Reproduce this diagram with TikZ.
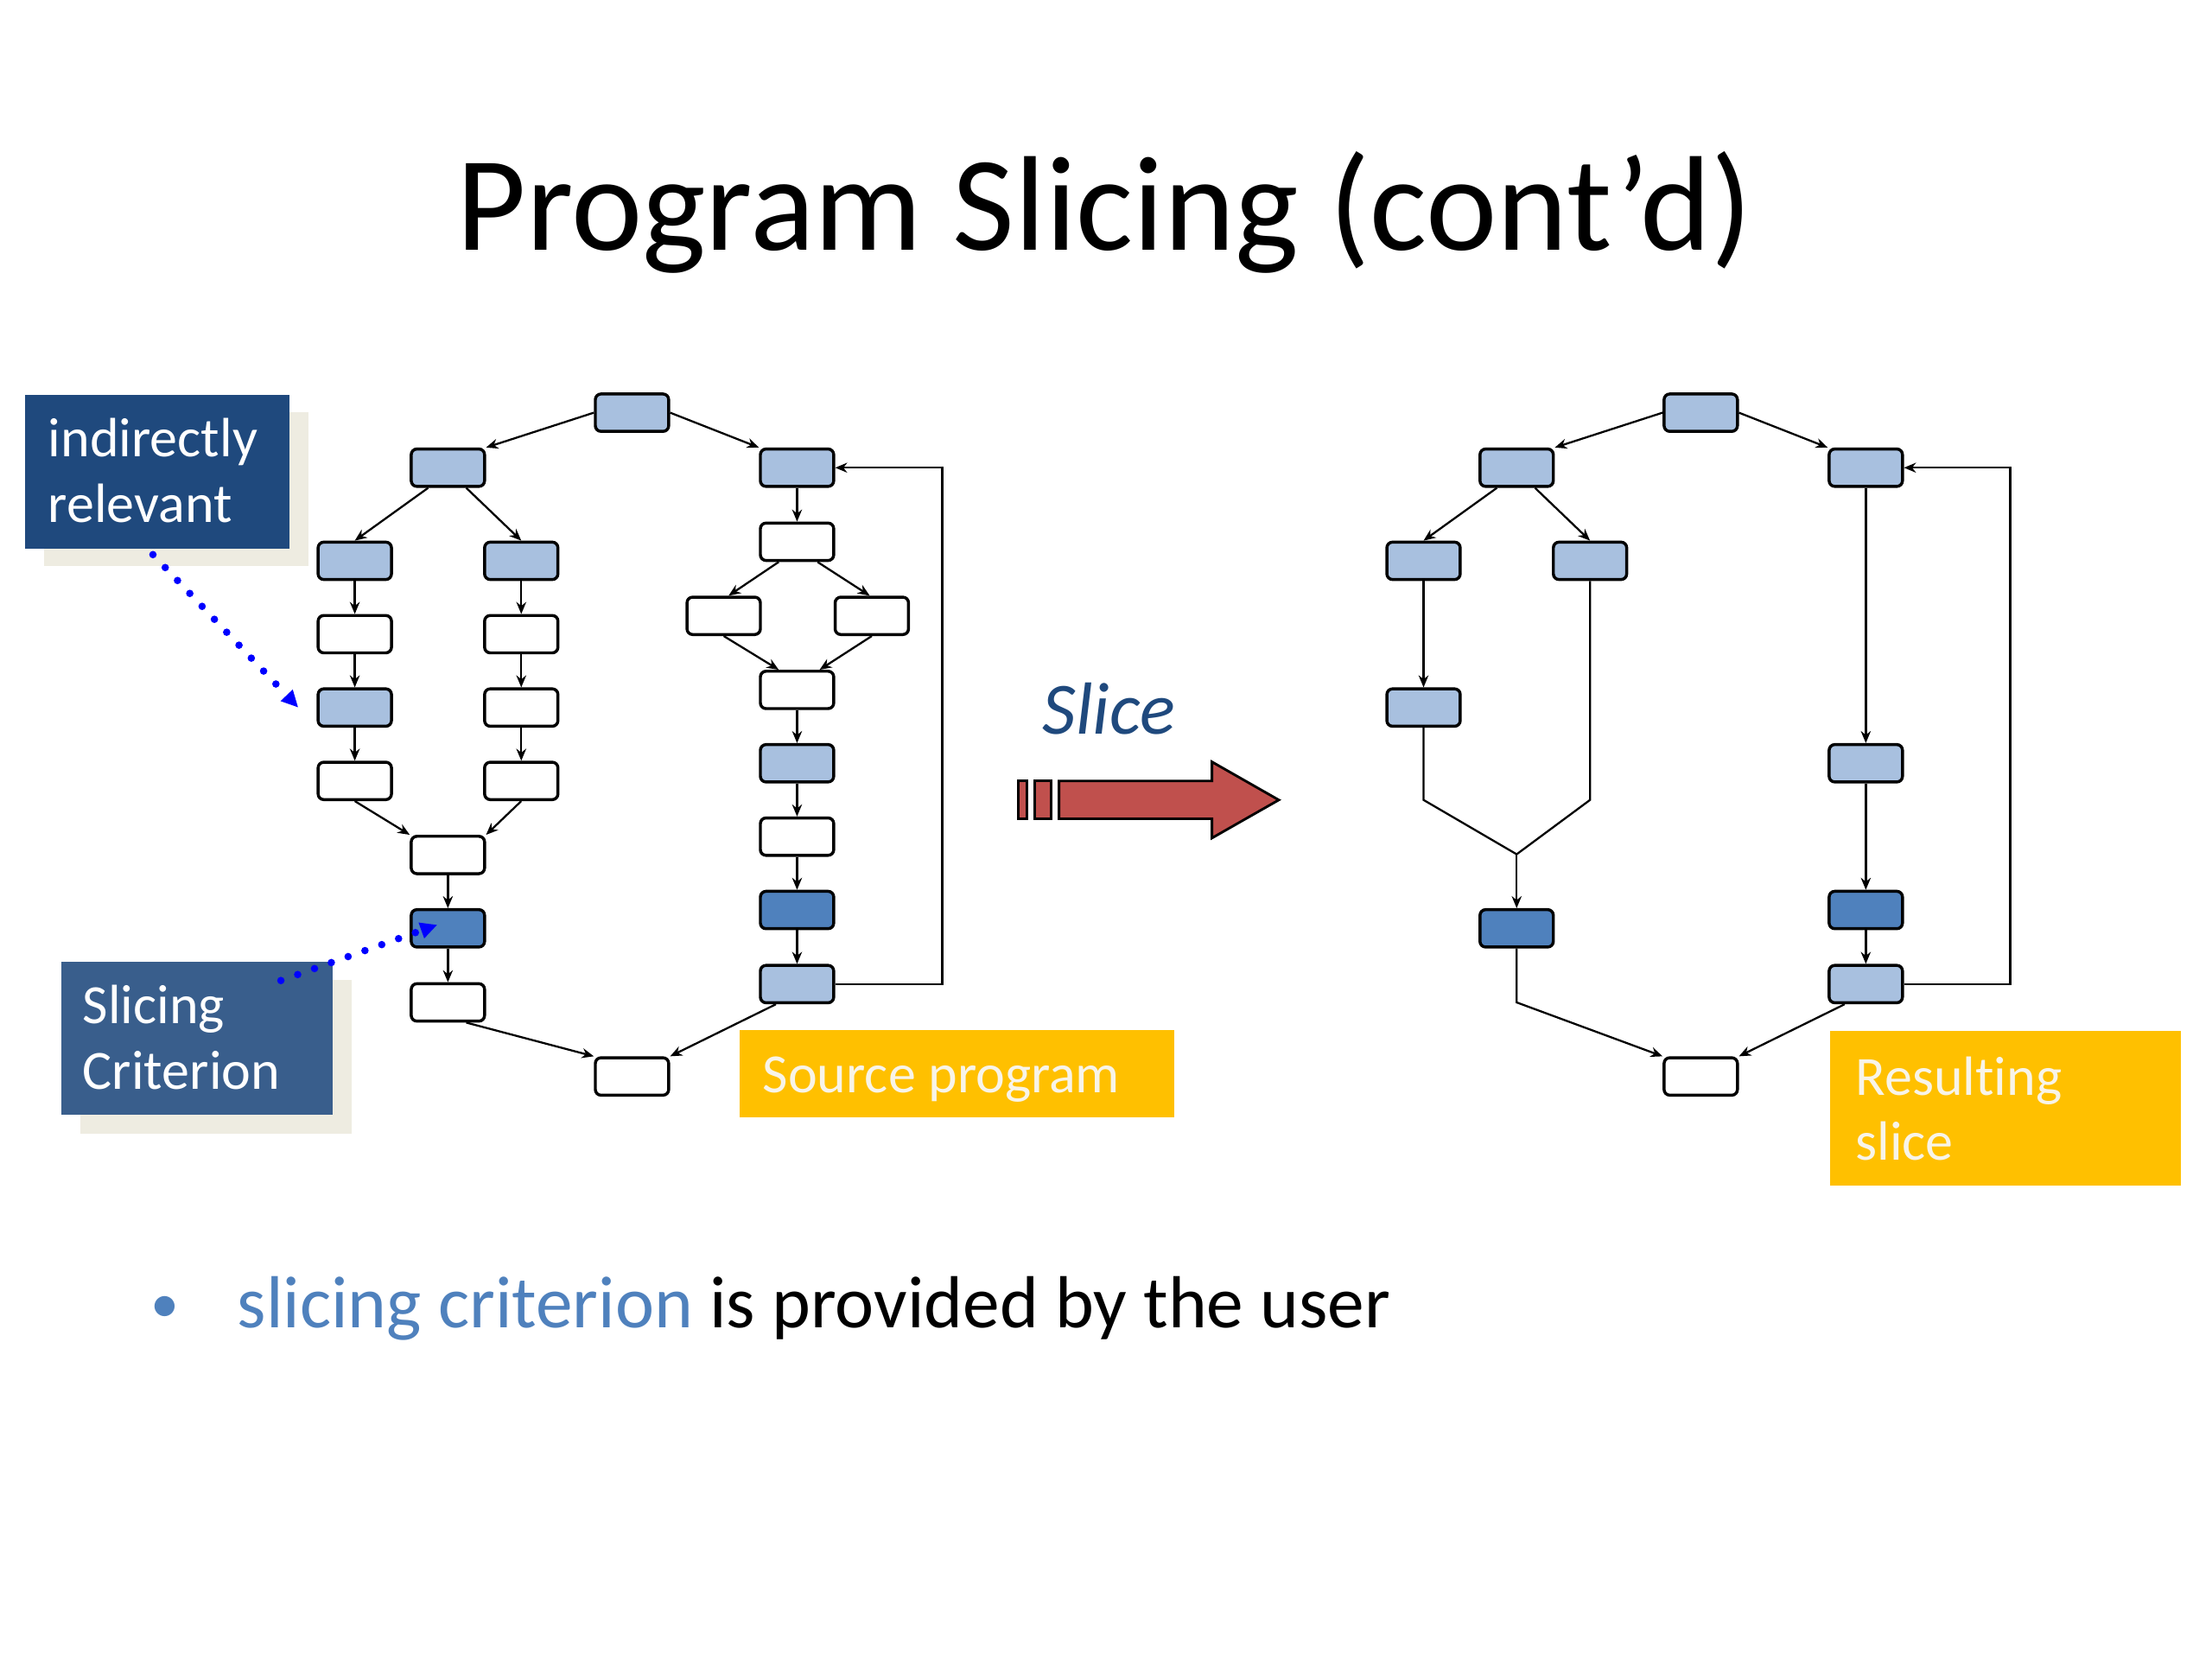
\documentclass[tikz,border=0pt]{standalone}
\usepackage{fontspec}
\setmainfont{Carlito}[Ligatures={NoCommon,NoRequired,NoContextual}]
\usetikzlibrary{arrows.meta,calc}
\definecolor{lblue}{RGB}{168,192,223}
\definecolor{dblue}{RGB}{79,129,189}
\definecolor{navy}{RGB}{31,73,125}
\definecolor{critblue}{RGB}{57,94,140}
\definecolor{shadowc}{RGB}{238,236,225}
\definecolor{gold}{RGB}{255,192,0}
\definecolor{cream}{RGB}{248,244,232}
\definecolor{slicered}{RGB}{192,80,77}
\tikzset{
  box/.style={draw=black, line width=0.6pt, rounded corners=0.4mm, minimum width=5.2mm, minimum height=2.65mm, inner sep=0pt},
  lb/.style={box, fill=lblue},
  db/.style={box, fill=dblue},
  wb/.style={box, fill=white},
  conn/.style={line width=0.4pt, -{Stealth[length=0.85mm,width=0.7mm]}},
  plainline/.style={line width=0.4pt},
  panel/.style={anchor=north west, inner sep=0pt, draw=none},
  calloutfont/.style={font=\fontsize{11.16}{13.4}\selectfont, anchor=base west, inner sep=0pt},
  dotarrow/.style={draw=blue, line width=1.5pt, line cap=round, dash pattern=on 0pt off 3.6pt, -{Triangle[length=1.2mm,width=1.1mm,fill=blue]}},
  redshape/.style={fill=slicered, draw=black, line width=0.5pt}
}
\begin{document}
\begin{tikzpicture}[x=0.1mm, y=-0.1mm]
\useasboundingbox (0,0) rectangle (1568,1176);
\fill[white] (0,0) rectangle (1568,1176);

% Title
\node[anchor=base, inner sep=0pt, font=\fontsize{27.2}{32}\selectfont] (title) at (783,177.5) {Program Slicing (cont’d)};

% ---------- Left graph ----------
\node[lb] (A0) at (448,292.5) {};
\node[lb] (A1) at (317.5,331.5) {};
\node[lb] (A2) at (565,331.5) {};
\node[lb] (B1) at (251.5,397.5) {};
\node[wb] (B2) at (251.5,449.5) {};
\node[lb] (B3) at (251.5,501.5) {};
\node[wb] (B4) at (251.5,553.5) {};
\node[lb] (C1) at (369.5,397.5) {};
\node[wb] (C2) at (369.5,449.5) {};
\node[wb] (C3) at (369.5,501.5) {};
\node[wb] (C4) at (369.5,553.5) {};
\node[wb] (J) at (317.5,606) {};
\node[db] (K) at (317.5,658) {};
\node[wb] (W) at (317.5,710.5) {};
\node[wb] (Z) at (448,763) {};
\node[wb] (R1) at (565,384) {};
\node[wb] (S1) at (513,436.5) {};
\node[wb] (S2) at (618,436.5) {};
\node[wb] (R2) at (565,489) {};
\node[lb] (R3) at (565,541) {};
\node[wb] (R4) at (565,593) {};
\node[db] (R5) at (565,645) {};
\node[lb] (R6) at (565,697.5) {};
\coordinate (LP) at (668,331.5);

\draw[conn] (A0.west) -- (A1.north east);
\draw[conn] (A0.east) -- (A2.north west);
\draw[conn] ([xshift=-1.4mm]A1.south) -- (B1.north);
\draw[conn] ([xshift=1.3mm]A1.south) -- (C1.north);
\draw[conn] (B1) -- (B2);
\draw[conn] (B2) -- (B3);
\draw[conn] (B3) -- (B4);
\draw[conn] (C1) -- (C2);
\draw[conn] (C2) -- (C3);
\draw[conn] (C3) -- (C4);
\draw[conn] (B4.south) -- (J.north west);
\draw[conn] (C4.south) -- (J.north east);
\draw[conn] (J) -- (K);
\draw[conn] (K) -- (W);
\draw[conn] ([xshift=1.3mm]W.south) -- (Z.north west);
\draw[conn] (A2) -- (R1);
\draw[conn] ([xshift=-1.3mm]R1.south) -- ([xshift=0.35mm]S1.north);
\draw[conn] ([xshift=1.45mm]R1.south) -- ([xshift=-0.15mm]S2.north);
\draw[conn] (S1.south) -- ([xshift=-1.3mm]R2.north);
\draw[conn] (S2.south) -- ([xshift=1.6mm]R2.north);
\draw[conn] (R2) -- (R3);
\draw[conn] (R3) -- (R4);
\draw[conn] (R4) -- (R5);
\draw[conn] (R5) -- (R6);
\draw[conn] ([xshift=-1.5mm]R6.south) -- (Z.north east);
\draw[conn] (R6.east) -| (LP) -- (A2.east);

% ---------- Right graph ----------
\node[lb] (P0) at (1205.6,292.5) {};
\node[lb] (P1) at (1075.1,331.5) {};
\node[lb] (P2) at (1322.6,331.5) {};
\node[lb] (Q1) at (1009.1,397.5) {};
\node[lb] (Q3) at (1009.1,501.5) {};
\node[lb] (T1) at (1127.1,397.5) {};
\node[db] (PK) at (1075.1,658) {};
\node[wb] (PZ) at (1205.6,763) {};
\node[lb] (U3) at (1322.6,541) {};
\node[db] (U5) at (1322.6,645) {};
\node[lb] (U6) at (1322.6,697.5) {};
\coordinate (QL) at (1009.1,567);
\coordinate (TL) at (1127.1,567);
\coordinate (M) at (1075.1,605.5);
\coordinate (PKb) at (1075.1,710.5);
\coordinate (RP) at (1425,331.5);

\draw[conn] (P0.west) -- (P1.north east);
\draw[conn] (P0.east) -- (P2.north west);
\draw[conn] ([xshift=-1.4mm]P1.south) -- (Q1.north);
\draw[conn] ([xshift=1.3mm]P1.south) -- (T1.north);
\draw[conn] (Q1) -- (Q3);
\draw[plainline] (Q3.south) -- (QL) -- (M);
\draw[plainline] (T1.south) -- (TL) -- (M);
\draw[conn] (M) -- (PK.north);
\draw[conn] (PK.south) -- (PKb) -- (PZ.north west);
\draw[conn] (P2) -- (U3);
\draw[conn] (U3) -- (U5);
\draw[conn] (U5) -- (U6);
\draw[conn] ([xshift=-1.5mm]U6.south) -- (PZ.north east);
\draw[conn] (U6.east) -| (RP) -- (P2.east);

% ---------- Slice arrow ----------
\node[anchor=base west, inner sep=0pt, text=navy, font=\fontsize{14.88}{17}\selectfont\itshape] (slicetxt) at (738.3,520.5) {Slice};
\draw[redshape] (721.7,553.5) rectangle (728,580.3);
\draw[redshape] (733.3,553.5) rectangle (745.2,580.3);
\draw[redshape] (750.7,553.5) -- (859.1,553.5) -- (859.1,540) -- (906.5,567) -- (859.1,594) -- (859.1,580.3) -- (750.7,580.3) -- cycle;

% ---------- Callouts ----------
\node[panel, fill=shadowc, minimum width=18.74mm, minimum height=10.92mm] (IRs) at (30.5,291.5) {};
\node[panel, fill=navy, minimum width=18.74mm, minimum height=10.92mm] (IR) at (17,279) {};
\node[calloutfont, text=white] (IRt1) at (33.5,323.5) {indirectly};
\node[calloutfont, text=white] (IRt2) at (33.5,370.5) {relevant};

\node[panel, fill=shadowc, minimum width=19.23mm, minimum height=10.89mm] (SCs) at (56,694) {};
\node[panel, fill=critblue, minimum width=19.23mm, minimum height=10.89mm] (SC) at (42.7,680.7) {};
\node[calloutfont, text=white] (SCt1) at (58,725.5) {Slicing};
\node[calloutfont, text=white] (SCt2) at (58,772) {Criterion};

\node[panel, fill=gold, minimum width=30.81mm, minimum height=6.22mm] (SP) at (523.7,729.2) {};
\node[calloutfont, text=cream] (SPt) at (540,774.4) {Source program};

\node[panel, fill=gold, minimum width=24.89mm, minimum height=10.94mm] (RS) at (1296.5,730.3) {};
\node[calloutfont, text=cream] (RSt1) at (1314.6,776.5) {Resulting};
\node[calloutfont, text=cream] (RSt2) at (1314.6,822.5) {slice};

\draw[dotarrow] ([shift={(-0.3mm,-0.35mm)}]IR.south) -- ([xshift=-1.3mm]B3.west);
\draw[dotarrow] ([shift={(-3.73mm,-1.43mm)}]SC.north east) -- ([xshift=-0.75mm,yshift=0.25mm]K.center);

% ---------- Bullet ----------
\node[anchor=base, inner sep=0pt, text=dblue, font=\fontsize{11.5}{13}\selectfont] (bul) at (117,937.5) {•};
\node[anchor=base west, inner sep=0pt, font=\fontsize{14.88}{17}\selectfont] (btxt) at (167.5,941) {\textcolor{dblue}{slicing criterion} is provided by the user};
\end{tikzpicture}
\end{document}
